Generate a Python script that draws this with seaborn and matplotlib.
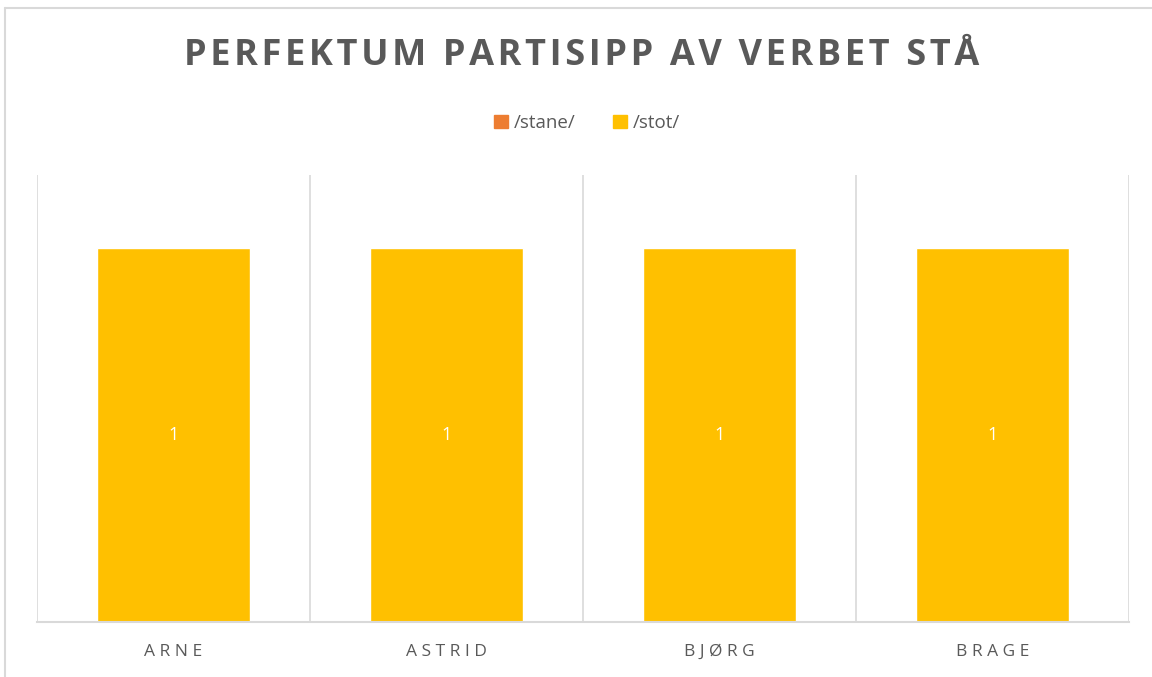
import matplotlib
matplotlib.use("Agg")
import matplotlib.pyplot as plt
import matplotlib.patches as mpatches
import seaborn as sns
import pandas as pd

categories = ["ARNE", "ASTRID", "BJØRG", "BRAGE"]
stane = [0, 0, 0, 0]
stot = [1, 1, 1, 1]
series_names = ["/stane/", "/stot/"]
title = "PERFEKTUM PARTISIPP AV VERBET STÅ"

C_STANE = "#ED7D31"
C_STOT = "#FFC000"
TXT = "#595959"
GRID = "#D9D9D9"

sns.set_theme(style="white")
plt.rcParams["font.family"] = ["Open Sans", "DejaVu Sans"]

fig = plt.figure(figsize=(11.52, 6.77), dpi=100)
ax = fig.add_axes([37/1152, 1 - 622/677, (1129-37)/1152, (622-175)/677])

df = pd.DataFrame({"cat": categories, "stane": stane, "stot": stot})
sns.barplot(data=df, x="cat", y="stane", color=C_STANE, width=0.557,
            saturation=1, ax=ax, order=categories)
sns.barplot(data=df, x="cat", y="stot", color=C_STOT, width=0.557,
            saturation=1, ax=ax, order=categories, bottom=df["stane"])

cont = ax.containers[-1]
ax.bar_label(cont, labels=[str(v) for v in stot], label_type="center",
             color="white", fontsize=13)

ax.set_ylim(0, 1.195)
ax.set_xlim(-0.5, len(categories) - 0.5)
for x in [i - 0.5 for i in range(len(categories) + 1)]:
    ax.axvline(x, color=GRID, lw=1.2, zorder=0)
ax.set_yticks([])
ax.set_xlabel("")
ax.set_ylabel("")
for s in ["top", "right", "left"]:
    ax.spines[s].set_visible(False)
ax.spines["bottom"].set_color(GRID)
ax.spines["bottom"].set_linewidth(1.5)
ax.tick_params(axis="x", length=0, pad=16, labelcolor=TXT)
ax.set_xticks(range(len(categories)))
ax.set_xticklabels([" ".join(c) for c in categories], fontsize=12.5, color=TXT)

spaced_title = "\u200a".join(title)
fig.text(582/1152, 1 - 56/677, spaced_title, ha="center", va="center",
         fontsize=26, fontweight="bold", color=TXT)

handles = [mpatches.Patch(color=C_STANE, label=series_names[0]),
           mpatches.Patch(color=C_STOT, label=series_names[1])]
leg = fig.legend(handles=handles, loc="center", bbox_to_anchor=(587/1152, 1 - 123/677),
                 ncol=2, frameon=False, fontsize=13.5, handlelength=0.75, handleheight=0.75,
                 handletextpad=0.3, columnspacing=2.0, labelcolor=TXT)

# outer chart border
fig.add_artist(plt.Line2D([5/1152, 5/1152], [0, 1 - 8/677], color=GRID, lw=1.5,
                          transform=fig.transFigure))
fig.add_artist(plt.Line2D([5/1152, 1], [1 - 8/677, 1 - 8/677], color=GRID, lw=1.5,
                          transform=fig.transFigure))

fig.savefig("out.png", dpi=100, facecolor="white")
